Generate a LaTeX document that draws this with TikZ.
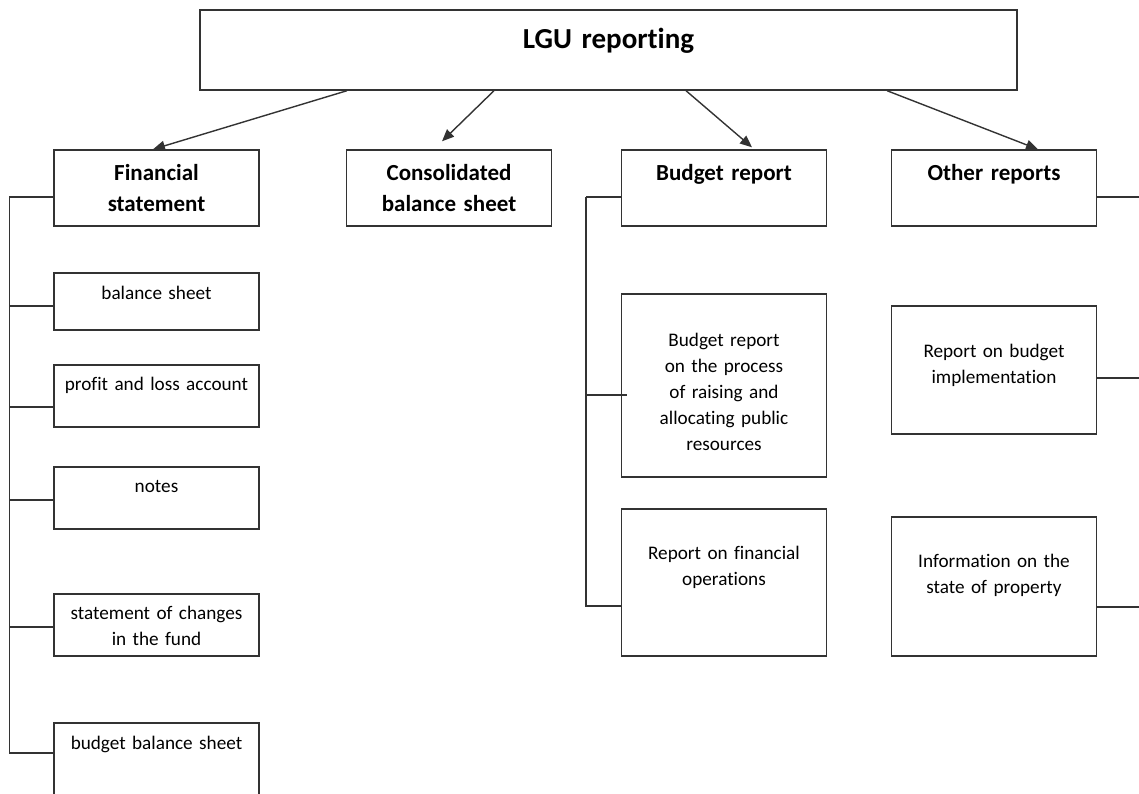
\documentclass[tikz,border=0pt]{standalone}
\usepackage{fontspec}
\setmainfont{Carlito}[Ligatures=NoCommon]
\usetikzlibrary{arrows.meta}
\tikzset{
  box/.style={draw=black!80, line width=0.7pt, inner sep=0pt, anchor=base,
    align=center, text width=102.5pt, font=\fontsize{9.6}{13}\selectfont},
  head/.style={box, font=\fontsize{11.5}{15.5}\selectfont\bfseries},
  arr/.style={draw=black!80, line width=0.7pt, -{Triangle[length=6pt,width=5pt]}},
  tap/.style={draw=black!80, line width=0.7pt},
}
\begin{document}
\begin{tikzpicture}[x=0.5pt, y=-0.5pt]
\useasboundingbox (0,0) rectangle (1139,793);
% top
\node[head, text width=408.5pt, text height=19pt, text depth=21pt,
  font=\fontsize{14.5}{18}\selectfont\bfseries] (lgu) at (608.5,48) {LGU reporting};
% second row
\node[head, text height=15pt, text depth=23pt] (fin) at (156.5,180) {Financial\\statement};
\node[head, text height=15pt, text depth=23pt] (cons) at (449,180) {Consolidated\\balance sheet};
\node[head, text height=15pt, text depth=23pt] (bud) at (724,180) {Budget report};
\node[head, text height=15pt, text depth=23pt] (oth) at (994,180) {Other reports};
% financial statement parts
\node[box, text height=13pt, text depth=15.5pt] (bal) at (156.5,299) {balance sheet};
\node[box, text height=12.5pt, text depth=18.5pt] (pl) at (156.5,390) {profit and loss account};
\node[box, text height=12.5pt, text depth=18.5pt] (notes) at (156.5,492) {notes};
\node[box, text height=12.5pt, text depth=18.5pt] (chg) at (156.5,619) {statement of changes\\in the fund};
\node[box, text height=13pt, text depth=40pt] (bbs) at (156.5,749) {budget balance sheet}; % runs off the bottom
% budget report parts
\node[box, text height=26pt, text depth=65.5pt] (proc) at (724,346)
  {Budget report\\on the process\\of raising and\\allocating public\\resources};
\node[box, text height=25pt, text depth=48.5pt] (fop) at (724,559) {Report on financial\\operations};
% other reports parts
\node[box, text height=25.5pt, text depth=38.5pt] (impl) at (994,357) {Report on budget\\implementation};
\node[box, text height=25pt, text depth=44.5pt] (prop) at (994,567) {Information on the\\state of property};

% arrows from the top box
\draw[arr] ([xshift=-130.75pt]lgu.south) -- ([xshift=-1.75pt]fin.north);
\draw[arr] ([xshift=-57.25pt]lgu.south) -- ([xshift=-3.5pt,yshift=4pt]cons.north);
\draw[arr] ([xshift=38.75pt]lgu.south) -- ([xshift=14pt,yshift=1pt]bud.north);
\draw[arr] ([xshift=139.25pt]lgu.south) -- ([xshift=22pt]oth.north);

% left bracket
\draw[tap] ([yshift=-4.5pt]fin.west) -- ++(-22pt,0) coordinate (lspine);
\draw[tap] (lspine) |- ([yshift=-2pt]bbs.base west);
\foreach \n/\s in {bal/-2.25, pl/-5.5, notes/-1, chg/-1}
  \draw[tap] ([yshift=\s pt]\n.west) -- ++(-22pt,0);

% middle bracket
\draw[tap] ([yshift=-4.5pt]bud.west) -- ++(-17.5pt,0) coordinate (mspine);
\draw[tap] (mspine) |- ([yshift=-11.75pt]fop.west);
\draw[tap] ([yshift=-4.75pt,xshift=3pt]proc.west) -- ++(-20.5pt,0);

% right side, spine off the page
\foreach \n/\s in {oth/-4.5, impl/-4, prop/-10.25}
  \draw[tap] ([yshift=\s pt]\n.east) -- ++(25pt,0);
\end{tikzpicture}
\end{document}
